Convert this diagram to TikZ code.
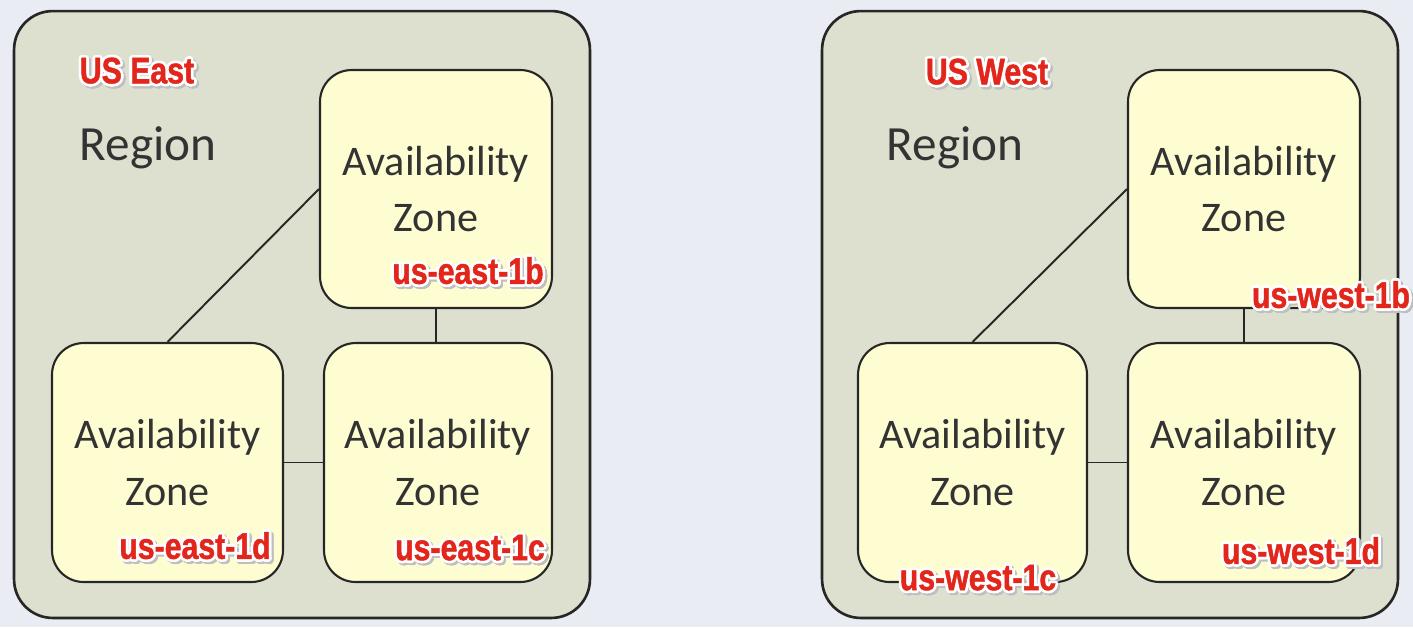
\documentclass[tikz,border=0pt]{standalone}
\usepackage{fontspec}
\setmainfont{Carlito}
\newfontfamily\tagfont[FakeStretch=0.82, BoldFeatures={FakeBold=1.2}]{Liberation Sans}
\usepackage{contour}
\contourlength{1.5pt}
\usetikzlibrary{positioning}

\definecolor{pagebg}{HTML}{E9EDF3}
\definecolor{regionfill}{HTML}{DDE0CF}
\definecolor{zonefill}{HTML}{FEFDD2}
\definecolor{textgray}{HTML}{333333}
\definecolor{tagred}{HTML}{E3261B}

% red tag with a white rim and a faint drop shadow
\newcommand{\ztag}[1]{\rlap{\hspace{1.2pt}\raisebox{-1.2pt}{\color{black!25}\contour{black!25}{#1}}}\contour{white}{#1}}

\begin{document}
\begin{tikzpicture}[x=0.02cm, y=-0.02cm,
    region/.style={draw=black!85, line width=1.5pt, fill=regionfill, rounded corners=22pt, minimum width=11.52cm, minimum height=12.14cm},
    zone/.style={draw=black!85, line width=1.2pt, fill=zonefill, rounded corners=18pt, minimum height=4.78cm, align=center, text=textgray, inner sep=0pt, font=\fontsize{24}{32}\selectfont},
    link/.style={draw=black!85, line width=1.1pt},
    tag/.style={text=tagred, inner sep=0pt, font=\tagfont\bfseries\fontsize{21}{23}\selectfont},
    regname/.style={text=tagred, inner sep=0pt, font=\tagfont\bfseries\fontsize{21}{23}\selectfont},
    reglabel/.style={text=textgray, inner sep=0pt, font=\fontsize{28}{30}\selectfont}]
    \fill[pagebg] (0,0) rectangle (1413,627);

    % US East
    \node (eastreg) [region] at (302,314.5) {};
    \node (eastb) [zone, minimum width=4.64cm, minimum height=4.76cm] at (436,189) {Availability\\Zone};
    \node (eastd) [zone, minimum width=4.62cm] at (167.5,462.5) {Availability\\Zone};
    \node (eastc) [zone, minimum width=4.56cm] at (438,462.5) {Availability\\Zone};
    \draw[link] (eastb.west) -- (eastd.north);
    \draw[link] (eastb.south) -- (eastb.south |- eastc.north);
    \draw[link] (eastd.east) -- (eastc.west);
    \node (eastname) [regname] at (137,73) {\ztag{US East}};
    \node (eastlbl) [reglabel] at (148,148) {Region};
    \node (eastbtag) [tag] at (468,273) {\ztag{us-east-1b}};
    \node (eastdtag) [tag] at (195,548) {\ztag{us-east-1d}};
    \node (eastctag) [tag] at (470,550) {\ztag{us-east-1c}};

    % US West
    \node (westreg) [region] at (1110,314.5) {};
    \node (westb) [zone, minimum width=4.64cm, minimum height=4.76cm] at (1244,189) {Availability\\Zone};
    \node (westc) [zone, minimum width=4.58cm] at (972.5,462.5) {Availability\\Zone};
    \node (westd) [zone, minimum width=4.64cm] at (1244,462.5) {Availability\\Zone};
    \draw[link] (westb.west) -- (westc.north);
    \draw[link] (westb.south) -- (westd.north);
    \draw[link] (westc.east) -- (westd.west);
    \node (westname) [regname] at (987,74) {\ztag{US West}};
    \node (westlbl) [reglabel] at (955,148) {Region};
    \node (westbtag) [tag] at (1331,297) {\ztag{us-west-1b}};
    \node (westctag) [tag] at (978,580) {\ztag{us-west-1c}};
    \node (westdtag) [tag] at (1301,553) {\ztag{us-west-1d}};
\end{tikzpicture}
\end{document}
